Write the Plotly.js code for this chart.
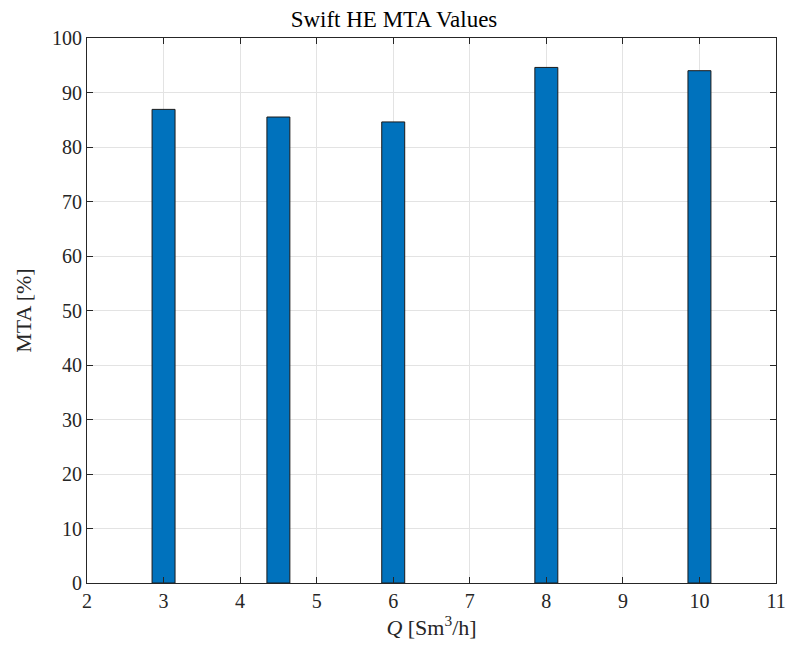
<!DOCTYPE html>
<html>
<head>
<meta charset="utf-8">
<script src="https://cdn.plot.ly/plotly-3.0.1.min.js"></script>
<style>
  html, body { margin: 0; padding: 0; background: #fff; }
  #chart { width: 788px; height: 648px; }
</style>
</head>
<body>
<div id="chart"></div>
<script>
// Flow rates Q [Sm^3/h] and MTA values [%]
const flowRates = [3, 4.5, 6, 8, 10];
const mtaValues = [86.9, 85.5, 84.6, 94.6, 94.0];
const xTicks = [2, 3, 4, 5, 6, 7, 8, 9, 10, 11];
const yTicks = [0, 10, 20, 30, 40, 50, 60, 70, 80, 90, 100];

const serif = 'Liberation Serif, DejaVu Serif, serif';
const axisColor = '#262626';

const trace = {
  type: 'bar',
  x: flowRates,
  y: mtaValues,
  width: 0.3,
  marker: { color: '#0072BD', line: { color: '#1a1a1a', width: 1 } },
  hoverinfo: 'x+y'
};

const commonAxis = {
  showline: true,
  linecolor: axisColor,
  linewidth: 1,
  mirror: 'ticks',
  ticks: 'inside',
  ticklen: 6,
  tickcolor: axisColor,
  showgrid: true,
  gridcolor: '#e3e3e3',
  gridwidth: 1,
  zeroline: false,
  tickfont: { family: serif, size: 20, color: axisColor }
};

const layout = {
  width: 788,
  height: 648,
  margin: { l: 87, r: 12, t: 38, b: 65 },
  paper_bgcolor: '#ffffff',
  plot_bgcolor: '#ffffff',
  showlegend: false,
  bargap: 0,
  title: {
    text: 'Swift HE MTA Values',
    font: { family: serif, size: 23, color: '#000' },
    x: 0.5, xanchor: 'center',
    yref: 'container',
    y: 0.97, yanchor: 'middle'
  },
  xaxis: Object.assign({}, commonAxis, {
    range: [2, 11],
    tickvals: xTicks,
    ticktext: xTicks.map(String),
    title: { text: '<i>Q</i> [Sm<sup>3</sup>/h]', font: { family: serif, size: 22, color: axisColor }, standoff: 5 }
  }),
  yaxis: Object.assign({}, commonAxis, {
    range: [0, 100],
    tickvals: yTicks,
    ticktext: yTicks.map(String),
    title: { text: 'MTA [%]', font: { family: serif, size: 22, color: axisColor }, standoff: 14 }
  })
};

Plotly.newPlot('chart', [trace], layout, { displayModeBar: false, staticPlot: true });
</script>
</body>
</html>
